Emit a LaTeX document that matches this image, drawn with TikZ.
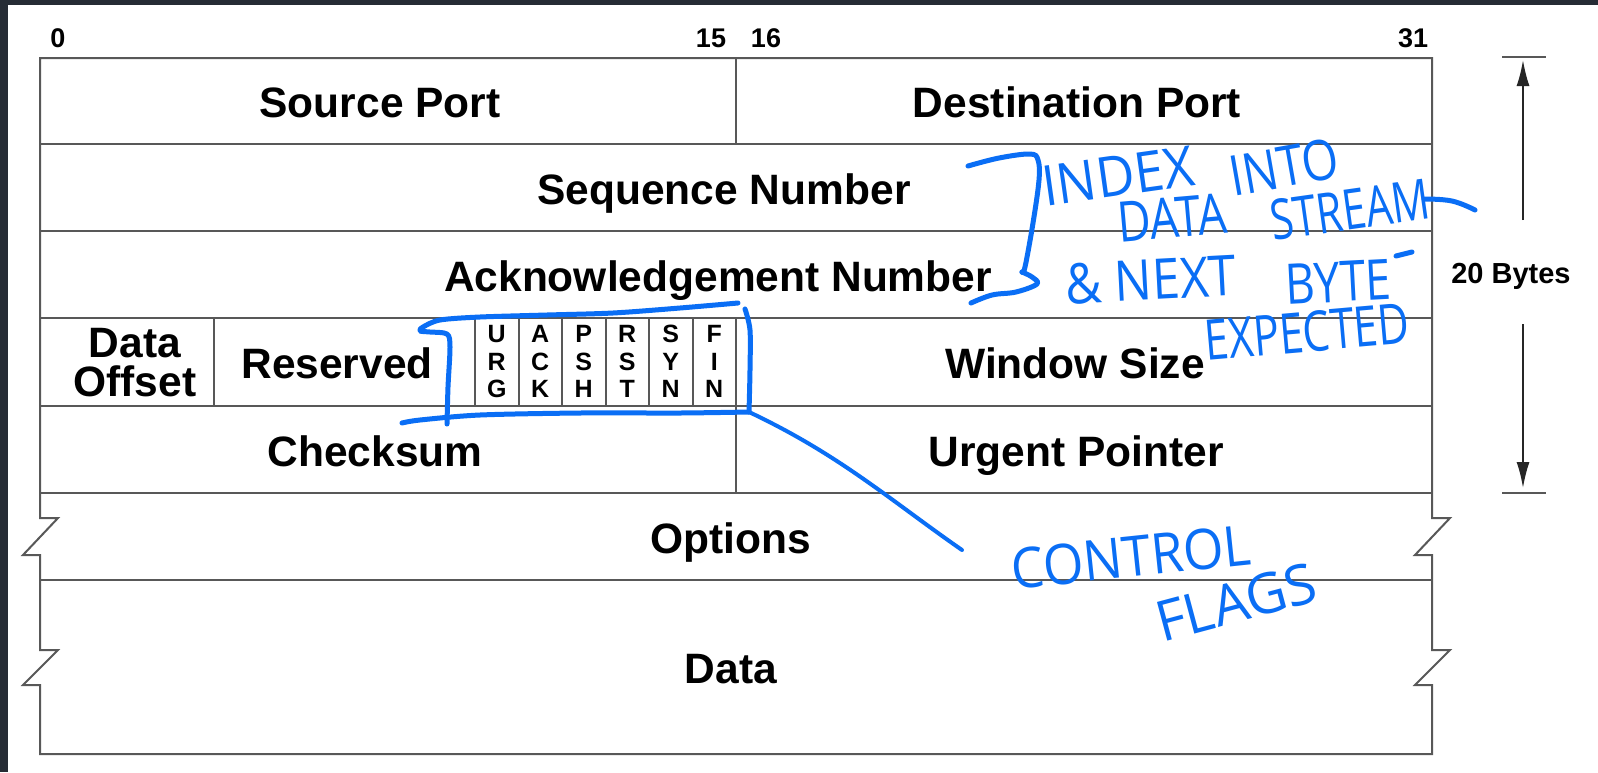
\documentclass[tikz,border=0pt]{standalone}
\usepackage{fontspec}
\setmainfont{Liberation Sans}
\newfontfamily\handfont{Open Sans}
\usetikzlibrary{arrows.meta}
\definecolor{framedark}{RGB}{38,44,53}
\definecolor{rulegray}{RGB}{88,88,88}
\definecolor{ink}{RGB}{10,110,245}
\begin{document}
\begin{tikzpicture}[x=1pt,y=-1pt,
  cell/.style={font=\bfseries\fontsize{42.5}{42.5}\selectfont, inner sep=0, anchor=base},
  bitnum/.style={font=\bfseries\fontsize{27}{27}\selectfont, inner sep=0, anchor=base},
  flagtxt/.style={font=\bfseries\fontsize{25}{25}\selectfont, inner sep=0, anchor=base},
  gridline/.style={draw=rulegray, line width=2pt},
  spanline/.style={draw=black!85, line width=1.8pt, -{Latex[length=26pt,width=13pt]}},
  hand/.style={font=\handfont\fontsize{56}{56}\selectfont, text=ink, inner sep=0},
  pen/.style={draw=ink, line width=5pt, line cap=round, line join=round}
]
% page and dark window frame
\fill[white] (0,0) rectangle (1598,772);
\fill[framedark] (0,0) rectangle (1598,5);
\fill[framedark] (0,0) rectangle (8,772);
\useasboundingbox (0,0) rectangle (1598,772);

% header outline with break marks on the variable-length rows
\draw[gridline, line join=miter] (40,518) -- (40,58) -- (1432,58) -- (1432,518)
  -- (1450,518) -- (1415,555) -- (1432,555) -- (1432,650)
  -- (1450,650) -- (1415,685) -- (1432,685) -- (1432,754)
  -- (40,754) -- (40,685) -- (23,685) -- (58,650) -- (40,650)
  -- (40,555) -- (23,555) -- (58,518) -- cycle;
\foreach \y in {144,231,318,406,493,580}
  \draw[gridline] (40,\y) -- (1432,\y);
\draw[gridline] (736,58) -- (736,144);
\draw[gridline] (736,318) -- (736,493);
\draw[gridline] (214,318) -- (214,406);
\foreach \k in {10,...,15}
  \draw[gridline] ({40+\k*43.5},318) -- ({40+\k*43.5},406);

% bit positions
\node[bitnum] (b0)  at (58,47)   {0};
\node[bitnum] (b15) at (711,47)  {15};
\node[bitnum] (b16) at (766,47)  {16};
\node[bitnum] (b31) at (1413,47) {31};

% fields
\node[cell] (srcport) at (380,117)  {Source Port};
\node[cell] (dstport) at (1077,117) {Destination Port};
\node[cell] (seqno)   at (724,204)  {Sequence Number};
\node[cell] (ackno)   at (718,291)  {Acknowledgement Number};
\node[cell] (offset1) at (135,357)  {Data};
\node[cell] (offset2) at (135,396)  {Offset};
\node[cell] (resv)    at (337,378)  {Reserved};
\node[cell] (window)  at (1075,378) {Window Size};
\node[cell] (chksum)  at (375,466)  {Checksum};
\node[cell] (urgptr)  at (1076,466) {Urgent Pointer};
\node[cell] (options) at (731,553)  {Options};
\node[cell] (data)    at (731,683)  {Data};

% one-bit control flags, spelled downwards
\foreach \nm/\a/\b/\c [count=\k from 10] in
    {urg/U/R/G, ack/A/C/K, psh/P/S/H, rst/R/S/T, syn/S/Y/N, fin/F/I/N} {
  \node[flagtxt] (\nm-1) at ({40+(\k+0.5)*43.5},342) {\a};
  \node[flagtxt] (\nm-2) at ({40+(\k+0.5)*43.5},370) {\b};
  \node[flagtxt] (\nm-3) at ({40+(\k+0.5)*43.5},397) {\c};
}

% header length dimension
\node[font=\bfseries\fontsize{29}{29}\selectfont, inner sep=0, anchor=base] (bytes) at (1511,283) {20 Bytes};
\coordinate (uptick) at (1523,60);
\coordinate (upfrom) at (1523,220);
\coordinate (downfrom) at (1523,324);
\coordinate (downtick) at (1523,488);
\draw[gridline] (1502,57) -- (1546,57);
\draw[gridline] (1502,493) -- (1546,493);
\draw[spanline] (upfrom) -- (uptick);
\draw[spanline] (downfrom) -- (downtick);

% pen notes: bracket over sequence / acknowledgement numbers
\draw[pen] plot[smooth, tension=0.6] coordinates {(968,166) (999,158) (1030,154) (1038,160) (1039,180) (1033,223) (1025,267) (1022,272)};
\draw[pen] plot[smooth, tension=0.6] coordinates {(1022,272) (1032,277) (1037,284) (1016,292) (992,295) (971,303)};
\node[hand, rotate=8,  xscale=0.94] (index)    at (1118,176) {INDEX};
\node[hand, rotate=10, xscale=0.84] (into)     at (1284,167) {INTO};
\node[hand, rotate=5,  xscale=0.82] (datanote) at (1172,218) {DATA};
\node[hand, rotate=8,  xscale=0.75] (stream)   at (1350,210) {STREAM};
\draw[pen] plot[smooth, tension=0.7] coordinates {(1424,199) (1452,201) (1475,210)};
\node[hand, rotate=3,  xscale=0.89] (next)     at (1151,280) {\& NEXT};
\node[hand, rotate=3,  xscale=0.82] (byte)     at (1338,282) {BYTE};
\draw[pen] (1396,256) -- (1412,252);
\node[hand, rotate=5,  xscale=0.77] (expected) at (1307,332) {EXPECTED};

% pen notes: loop round the flags and lead to its label
\draw[pen] plot[smooth, tension=0.5] coordinates {(738,303) (680,308) (613,313) (547,315) (480,317) (440,320) (423,327) (420,331) (430,332) (447,334) (450,347) (448,387) (447,424)};
\draw[pen] plot[smooth, tension=0.5] coordinates {(402,423) (420,420) (480,415) (580,413) (680,413) (749,412)};
\draw[pen] plot[smooth, tension=0.5] coordinates {(745,309) (750,330) (750,370) (749,412)};
\coordinate (flagcorner) at (749,412);
\coordinate (flagsend) at (962,550);
\draw[pen, line width=4pt] (flagcorner) .. controls (840,455) and (890,500) .. (flagsend);
\node[hand, rotate=6,  xscale=0.93] (control) at (1131,557) {CONTROL};
\node[hand, rotate=15] (flags) at (1236,602) {FLAGS};
\end{tikzpicture}
\end{document}
